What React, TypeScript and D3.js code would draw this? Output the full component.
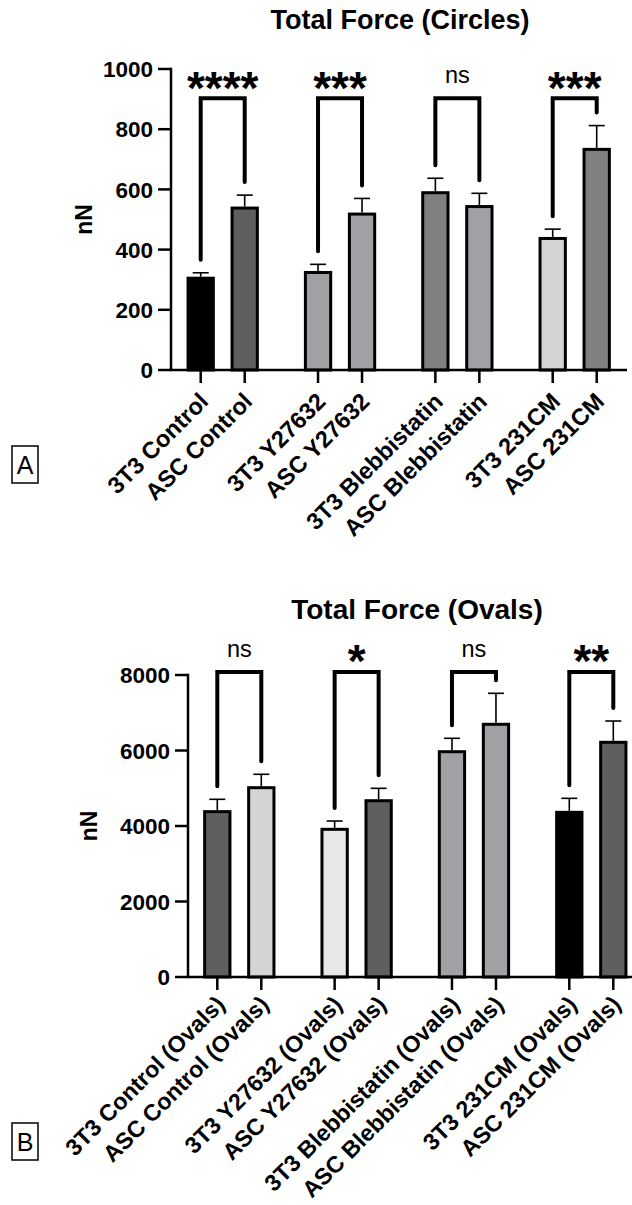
import React from "react";
import * as d3 from "d3";

// ---- data ----
const groups = ["3T3 Control", "ASC Control", "3T3 Y27632", "ASC Y27632", "3T3 Blebbistatin", "ASC Blebbistatin", "3T3 231CM", "ASC 231CM"];

const circleMeans = [305, 538, 324, 518, 589, 543, 437, 733];
const circleErrors = [18, 43, 27, 52, 48, 44, 31, 79];
const circleColors = ["#000000", "#5f5f5f", "#a0a0a5", "#a0a0a5", "#808080", "#a0a0a5", "#d4d4d4", "#808080"];
const circleSig = ["****", "***", "ns", "***"];
const circleTicks = [0, 200, 400, 600, 800, 1000];

const ovalLabels = groups.map(g => g + " (Ovals)");
const ovalMeans = [4380, 5015, 3912, 4670, 5968, 6694, 4362, 6217];
const ovalErrors = [327, 355, 220, 328, 355, 821, 371, 564];
const ovalColors = ["#5f5f5f", "#d4d4d4", "#e8e8e8", "#5f5f5f", "#a0a0a5", "#a0a0a5", "#000000", "#5f5f5f"];
const ovalSig = ["ns", "*", "ns", "**"];
const ovalTicks = [0, 2000, 4000, 6000, 8000];

const FONT = "'Liberation Sans', Arial, Helvetica, sans-serif";

type PanelProps = {
  title: string;
  titleX: number;
  titleY: number;
  titleSize: number;
  labels: string[];
  means: number[];
  errors: number[];
  colors: string[];
  sig: string[];
  ticks: number[];
  yMax: number;
  bracketAt: number;
  xRange: [number, number];
  yRange: [number, number];
  axisX: number;
  axisEnd: number;
  labelDy: number;
  labelSize: number;
  nNx: number;
  letter: string;
  letterY: number;
};

function Panel(p: PanelProps) {
  // slot positions: pairs of bars with a gap between pairs
  const slot = (i: number) => Math.floor(i / 2) * (2 + 2 / 3) + (i % 2);
  const x = d3.scaleLinear().domain([0, slot(7)]).range(p.xRange);
  const y = d3.scaleLinear().domain([0, p.yMax]).range(p.yRange);
  const y0 = y(0);
  const barW = 25.3;
  const gap = 13;
  const bracketY = y(p.bracketAt);

  return (
    <g fontFamily={FONT}>
      <text x={p.titleX} y={p.titleY} textAnchor="middle" fontSize={p.titleSize} fontWeight="bold">{p.title}</text>

      {p.means.map((m, i) => (
        <rect key={"b" + i} x={x(slot(i)) - barW / 2} y={y(m)} width={barW} height={y0 - y(m)}
          fill={p.colors[i]} stroke="#000" strokeWidth={3} />
      ))}
      {p.means.map((m, i) => {
        const cx = x(slot(i));
        const top = y(m + p.errors[i]);
        return (
          <g key={"e" + i} stroke="#000" strokeWidth={1.6}>
            <line x1={cx} x2={cx} y1={y(m) - 1.5} y2={top} />
            <line x1={cx - 8} x2={cx + 8} y1={top} y2={top} />
          </g>
        );
      })}

      {/* y axis */}
      <line x1={p.axisX} x2={p.axisX} y1={y(p.yMax) - 1.2} y2={y0} stroke="#000" strokeWidth={2.5} />
      {p.ticks.map(t => (
        <g key={"t" + t}>
          <line x1={p.axisX - 13} x2={p.axisX} y1={y(t)} y2={y(t)} stroke="#000" strokeWidth={2.5} />
          <text x={p.axisX - 18} y={y(t)} dy="0.36em" textAnchor="end" fontSize={22.5} fontWeight="bold">{t}</text>
        </g>
      ))}
      <text transform={`translate(${p.nNx},${(y(0) + y(p.yMax)) / 2}) rotate(-90)`} textAnchor="middle" dy="0.36em"
        fontSize={23} fontWeight="bold">nN</text>

      {/* x axis */}
      <line x1={p.axisX - 1.2} x2={p.axisEnd} y1={y0} y2={y0} stroke="#000" strokeWidth={2.5} />
      {p.labels.map((l, i) => {
        const cx = x(slot(i));
        return (
          <g key={"x" + i}>
            <line x1={cx} x2={cx} y1={y0} y2={y0 + 13} stroke="#000" strokeWidth={2.5} />
            <text transform={`translate(${cx + 3},${y0 + p.labelDy}) rotate(-45)`} textAnchor="end" dy="0.36em"
              fontSize={p.labelSize} fontWeight="bold">{l}</text>
          </g>
        );
      })}

      {/* significance brackets */}
      {p.sig.map((s, k) => {
        const a = 2 * k, b = 2 * k + 1;
        const xa = x(slot(a)), xb = x(slot(b));
        const ya = y(p.means[a] + p.errors[a]) - gap;
        const yb = y(p.means[b] + p.errors[b]) - gap;
        const isNs = s === "ns";
        return (
          <g key={"s" + k}>
            <path d={`M${xa},${ya}V${bracketY}H${xb}V${yb}`} fill="none" stroke="#000" strokeWidth={4}
              strokeLinejoin="miter" strokeLinecap="round" />
            <text x={(xa + xb) / 2} y={isNs ? bracketY - 15 : bracketY + 5.5} textAnchor="middle"
              fontSize={isNs ? 23.5 : 46} fontWeight={isNs ? "normal" : "bold"}>{s}</text>
          </g>
        );
      })}

      {/* panel letter */}
      <rect x={12} y={p.letterY} width={26} height={37} fill="none" stroke="#000" strokeWidth={1.5} />
      <text x={25} y={p.letterY + 18.5} dy="0.36em" textAnchor="middle" fontSize={25}>{p.letter}</text>
    </g>
  );
}

export default function App() {
  return (
    <svg width={632} height={1205} viewBox="0 0 632 1205"
      style={{ position: "absolute", left: 0, top: 0, display: "block", background: "#fff" }}>
      <rect width={632} height={1205} fill="#fff" />
      <Panel title="Total Force (Circles)" titleX={400} titleY={29} titleSize={27}
        labels={groups} means={circleMeans} errors={circleErrors} colors={circleColors} sig={circleSig}
        ticks={circleTicks} yMax={1000} bracketAt={903}
        xRange={[200.7, 596.7]} yRange={[370, 69]} axisX={171} axisEnd={627}
        labelDy={27} labelSize={23.5} nNx={84} letter="A" letterY={446} />
      <Panel title="Total Force (Ovals)" titleX={417} titleY={619} titleSize={28}
        labels={ovalLabels} means={ovalMeans} errors={ovalErrors} colors={ovalColors} sig={ovalSig}
        ticks={ovalTicks} yMax={8000} bracketAt={8080}
        xRange={[217.3, 613.3]} yRange={[977, 675]} axisX={188} axisEnd={632}
        labelDy={23} labelSize={23.2} nNx={89} letter="B" letterY={1123} />
    </svg>
  );
}
